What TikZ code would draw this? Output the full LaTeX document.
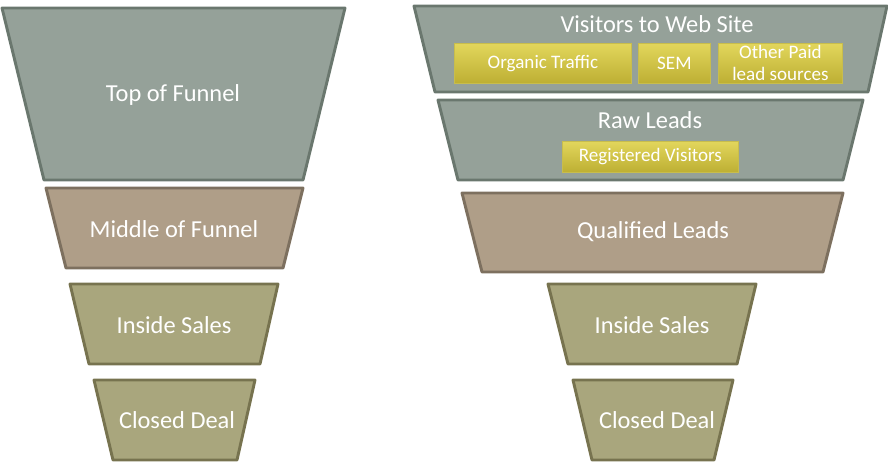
\documentclass[tikz,border=0pt]{standalone}
\usepackage{fontspec}
\setmainfont{Carlito}
\definecolor{gfill}{HTML}{95A199}
\definecolor{gline}{HTML}{6A776E}
\definecolor{bfill}{HTML}{AF9E88}
\definecolor{bline}{HTML}{7D705F}
\definecolor{ofill}{HTML}{A9A67D}
\definecolor{oline}{HTML}{77734F}
\definecolor{ytop}{HTML}{E2D65C}
\definecolor{ybot}{HTML}{BDAF33}
\definecolor{yline}{HTML}{C8BD4C}
\begin{document}
\begin{tikzpicture}[x=0.75pt,y=-0.75pt,
  gtrap/.style={fill=gfill,draw=gline,line width=2.2pt,line join=round},
  btrap/.style={fill=bfill,draw=bline,line width=2.2pt,line join=round},
  otrap/.style={fill=ofill,draw=oline,line width=2.2pt,line join=round},
  big/.style={text=white,font=\fontsize{18.3pt}{21pt}\selectfont},
  small/.style={text=white,font=\fontsize{14.3pt}{16.5pt}\selectfont,align=center},
  ybox/.style={top color=ytop,bottom color=ybot,draw=yline,line width=0.6pt,
    inner sep=0pt,anchor=north west}]
\useasboundingbox (0,0) rectangle (888,462);
% left funnel
\draw[gtrap] (2,8) -- (345,8) -- (303,180) -- (44,180) -- cycle;
\draw[btrap] (46,188) -- (303,188) -- (283,268) -- (66,268) -- cycle;
\draw[otrap] (70,284) -- (278,284) -- (260,364) -- (89,364) -- cycle;
\draw[otrap] (94,380) -- (255,380) -- (237,460) -- (113,460) -- cycle;
\node[big] (l1) at (173,95) {Top of Funnel};
\node[big] (l2) at (174,229) {Middle of Funnel};
\node[big] (l3) at (174,325) {Inside Sales};
\node[big] (l4) at (177,420) {Closed Deal};
% right funnel
\draw[gtrap] (414,6) -- (887,6) -- (868,92) -- (435,92) -- cycle;
\draw[gtrap] (438,100) -- (863,100) -- (843,180) -- (458,180) -- cycle;
\draw[btrap] (462,193) -- (843,193) -- (823,272) -- (482,272) -- cycle;
\draw[otrap] (548,284) -- (756,284) -- (737,364) -- (568,364) -- cycle;
\draw[otrap] (573,380) -- (733,380) -- (714,460) -- (592,460) -- cycle;
\node[big] (r1) at (657,24) {Visitors to Web Site};
\node[big] (r2) at (650,120) {Raw Leads};
\node[big] (r3) at (653,232) {Qualified Leads};
\node[big] (r4) at (652,325) {Inside Sales};
\node[big] (r5) at (657,420) {Closed Deal};
% yellow boxes
\node[ybox,minimum width=177*0.75pt,minimum height=40*0.75pt] (y1) at (454,43) {};
\node[ybox,minimum width=72*0.75pt,minimum height=40*0.75pt] (y2) at (638,43) {};
\node[ybox,minimum width=124*0.75pt,minimum height=40*0.75pt] (y3) at (718,43) {};
\node[ybox,minimum width=176*0.75pt,minimum height=31*0.75pt] (y4) at (562,141) {};
\node[small] (t1) at (y1.center) {Organic Traffic};
\node[small] (t2) at (y2.center) {SEM};
\node[small] (t3) at (y3.center) {Other Paid\\lead sources};
\node[small] (t4) at (y4.center) {Registered Visitors};
\end{tikzpicture}
\end{document}
